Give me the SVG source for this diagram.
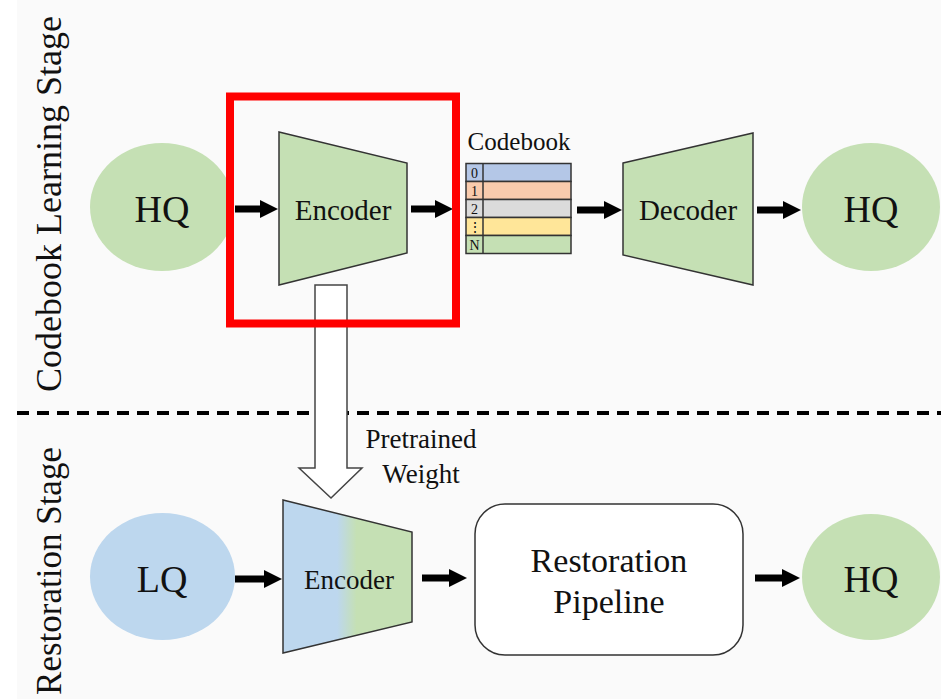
<svg xmlns="http://www.w3.org/2000/svg" width="941" height="699" viewBox="0 0 941 699">
  <style>
    .t { font-family: "Liberation Serif", "Times New Roman", serif; fill: #111; text-anchor: middle; }
    .shape { stroke: #333; stroke-width: 1.5; }
    .green { fill: #c5e0b4; }
    .arrow { stroke: #000; stroke-width: 7; fill: none; marker-end: url(#head); }
    .cb { stroke: #333; stroke-width: 1.5; }
  </style>
  <defs>
    <marker id="head" markerUnits="userSpaceOnUse" markerWidth="20" markerHeight="20" refX="0" refY="9" orient="auto">
      <path d="M0,0 L18,9 L0,18 z" fill="#000"/>
    </marker>
    <linearGradient id="encgrad" x1="0" y1="0" x2="1" y2="0">
      <stop offset="0.42" stop-color="#bdd7ee"/>
      <stop offset="0.57" stop-color="#c5e0b4"/>
    </linearGradient>
  </defs>

  <rect x="0" y="0" width="941" height="699" fill="#ffffff"/>
  <rect x="17" y="0" width="924" height="699" fill="#fafafa"/>

  <!-- stage labels -->
  <text class="t" font-size="36" transform="translate(61,204) rotate(-90)">Codebook Learning Stage</text>
  <text class="t" font-size="35" transform="translate(61,571) rotate(-90)">Restoration Stage</text>

  <!-- divider -->
  <line x1="17" y1="413" x2="941" y2="413" stroke="#000" stroke-width="4" stroke-dasharray="12,8"/>

  <!-- top row -->
  <g id="hq-top">
    <ellipse cx="162" cy="207" rx="72" ry="64" class="green"/>
    <text class="t" x="162" y="222" font-size="38">HQ</text>
  </g>

  <g id="encoder-top">
    <polygon points="279,132 407,163 407,253 279,285" class="shape green"/>
    <text class="t" x="343" y="220" font-size="29">Encoder</text>
  </g>

  <g id="codebook">
    <text class="t" x="519" y="150" font-size="25">Codebook</text>
    <rect x="466" y="163.5" width="105" height="18" fill="#b4c7e7" class="cb"/>
    <rect x="466" y="181.5" width="105" height="18" fill="#f8cbad" class="cb"/>
    <rect x="466" y="199.5" width="105" height="18" fill="#dbdbdb" class="cb"/>
    <rect x="466" y="217.5" width="105" height="18" fill="#ffe699" class="cb"/>
    <rect x="466" y="235.5" width="105" height="18" fill="#c5e0b4" class="cb"/>
    <line x1="483" y1="163.5" x2="483" y2="253.5" class="cb"/>
    <text class="t" x="474.5" y="178" font-size="14">0</text>
    <text class="t" x="474.5" y="196" font-size="14">1</text>
    <text class="t" x="474.5" y="214" font-size="14">2</text>
    <text class="t" x="474.5" y="232" font-size="14">⋮</text>
    <text class="t" x="474.5" y="250" font-size="14">N</text>
  </g>

  <g id="decoder">
    <polygon points="623,163 753,133 753,285 623,255" class="shape green"/>
    <text class="t" x="688" y="220" font-size="29">Decoder</text>
  </g>

  <g id="hq-top-out">
    <ellipse cx="871" cy="207" rx="69" ry="64" class="green"/>
    <text class="t" x="871" y="222" font-size="38">HQ</text>
  </g>

  <!-- bottom row -->
  <g id="lq">
    <ellipse cx="162.5" cy="576.5" rx="72.5" ry="63.5" fill="#bdd7ee"/>
    <text class="t" x="162" y="592" font-size="38">LQ</text>
  </g>

  <g id="encoder-bottom">
    <polygon points="283,500 412,532 412,622 283,653" fill="url(#encgrad)" class="shape"/>
    <text class="t" x="349" y="589" font-size="27">Encoder</text>
  </g>

  <g id="pipeline">
    <rect x="475" y="504" width="268" height="151" rx="30" ry="30" fill="#ffffff" class="shape"/>
    <text class="t" x="609" y="572" font-size="34">Restoration</text>
    <text class="t" x="609" y="613" font-size="34">Pipeline</text>
  </g>

  <g id="hq-bottom">
    <ellipse cx="871" cy="577" rx="69" ry="63" class="green"/>
    <text class="t" x="871" y="592" font-size="38">HQ</text>
  </g>

  <!-- connectors -->
  <g id="connectors">
    <line x1="235" y1="209" x2="260" y2="209" class="arrow"/>
    <line x1="411" y1="209" x2="435" y2="209" class="arrow"/>
    <line x1="577" y1="210" x2="604" y2="210" class="arrow"/>
    <line x1="757" y1="210" x2="783" y2="210" class="arrow"/>
    <line x1="235" y1="579" x2="264" y2="579" class="arrow"/>
    <line x1="422" y1="578" x2="449" y2="578" class="arrow"/>
    <line x1="755" y1="578" x2="782" y2="578" class="arrow"/>
    <path id="pretrained-arrow" d="M315,285 L347,285 L347,468 L362,468 L331,498 L299,468 L315,468 Z" fill="#ffffff" stroke="#444" stroke-width="1.5"/>
    <text class="t" x="421" y="448" font-size="27">Pretrained</text>
    <text class="t" x="421" y="483" font-size="27">Weight</text>
  </g>

  <g id="highlight">
    <rect x="230" y="96.5" width="226" height="227" fill="none" stroke="#ff0000" stroke-width="8"/>
  </g>
</svg>
